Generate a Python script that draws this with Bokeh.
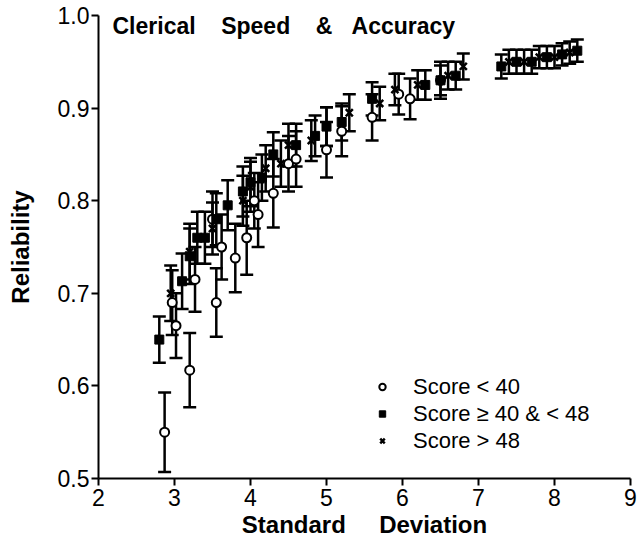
from bokeh.plotting import figure
from bokeh.models import ColumnDataSource, Whisker, TeeHead, Label, Legend, LegendItem, FixedTicker, NumeralTickFormatter
from bokeh.embed import file_html
from bokeh.resources import INLINE

# Score < 40 (open circles)
low_sd = [2.87, 2.97, 3.02, 3.2, 3.27, 3.55, 3.5, 3.62, 3.8, 3.95, 4.05, 4.1, 4.3, 4.5, 4.6, 5.0, 5.2, 5.6, 5.95, 6.1, 6.5]
low_rel = [0.550, 0.690, 0.665, 0.617, 0.715, 0.690, 0.780, 0.750, 0.738, 0.760, 0.800, 0.785, 0.808, 0.840, 0.845, 0.855, 0.875, 0.890, 0.915, 0.910, 0.930]
low_err = [0.043, 0.035, 0.035, 0.040, 0.035, 0.037, 0.030, 0.035, 0.037, 0.040, 0.030, 0.035, 0.037, 0.030, 0.030, 0.030, 0.027, 0.025, 0.022, 0.022, 0.020]

# Score >= 40 & < 48 (filled squares)
mid_sd = [2.8, 3.1, 3.2, 3.3, 3.4, 3.55, 3.7, 3.9, 4.0, 4.15, 4.3, 4.6, 4.85, 5.0, 5.2, 5.6, 6.3, 6.5, 6.7, 7.3, 7.5, 7.7, 7.9, 8.1, 8.3]
mid_rel = [0.650, 0.713, 0.740, 0.760, 0.760, 0.780, 0.795, 0.810, 0.820, 0.825, 0.850, 0.860, 0.870, 0.880, 0.885, 0.910, 0.925, 0.930, 0.935, 0.945, 0.950, 0.950, 0.955, 0.958, 0.962]
mid_err = [0.025, 0.030, 0.030, 0.028, 0.028, 0.028, 0.027, 0.027, 0.026, 0.025, 0.024, 0.023, 0.022, 0.021, 0.020, 0.018, 0.016, 0.016, 0.015, 0.013, 0.013, 0.013, 0.012, 0.012, 0.012]

# Score > 48 (crosses)
high_sd = [2.95, 3.2, 3.5, 3.9, 4.0, 4.2, 4.4, 4.5, 4.8, 5.0, 5.3, 5.7, 5.9, 6.2, 6.6, 6.8, 7.4, 7.6, 7.8, 8.0, 8.2]
high_rel = [0.700, 0.745, 0.770, 0.800, 0.815, 0.835, 0.840, 0.860, 0.865, 0.880, 0.895, 0.905, 0.920, 0.925, 0.935, 0.945, 0.950, 0.950, 0.955, 0.955, 0.960]
high_err = [0.030, 0.030, 0.028, 0.027, 0.027, 0.025, 0.025, 0.023, 0.022, 0.021, 0.020, 0.018, 0.017, 0.016, 0.015, 0.014, 0.013, 0.013, 0.012, 0.012, 0.012]

x_ticks = [2, 3, 4, 5, 6, 7, 8, 9]
y_ticks = [0.5, 0.6, 0.7, 0.8, 0.9, 1.0]
title_text = "Clerical\u00a0\u00a0\u00a0\u00a0Speed\u00a0\u00a0\u00a0\u00a0&\u00a0\u00a0\u00a0Accuracy"
x_label = "Standard\u00a0\u00a0\u00a0\u00a0\u00a0Deviation"
y_label = "Reliability"
legend_labels = ["Score < 40", "Score \u2265 40 & < 48", "Score > 48"]

FONT = "Liberation Sans"

p = figure(width=638, height=545, output_backend="svg", toolbar_location=None,
           x_range=(2, 9), y_range=(0.5, 1.0),
           min_border_left=98, min_border_right=8, min_border_top=15, min_border_bottom=67)
p.outline_line_color = None
p.xgrid.visible = False
p.ygrid.visible = False
p.background_fill_color = "white"

def src(xs, ys, es):
    return ColumnDataSource(dict(x=xs, y=ys,
                                 lo=[a - b for a, b in zip(ys, es)],
                                 hi=[a + b for a, b in zip(ys, es)]))

renderers = []
for xs, ys, es, kind in [(low_sd, low_rel, low_err, "circle"),
                         (mid_sd, mid_rel, mid_err, "square"),
                         (high_sd, high_rel, high_err, "x")]:
    s = src(xs, ys, es)
    w = Whisker(base="x", lower="lo", upper="hi", source=s, line_color="black", line_width=2.5,
                lower_head=TeeHead(size=13, line_width=2.5, line_color="black"),
                upper_head=TeeHead(size=13, line_width=2.5, line_color="black"))
    p.add_layout(w)
    if kind == "circle":
        r = p.scatter("x", "y", source=s, marker="circle", size=9, fill_color="white",
                      line_color="black", line_width=2)
    elif kind == "square":
        r = p.scatter("x", "y", source=s, marker="square", size=9, fill_color="black",
                      line_color="black")
    else:
        r = p.scatter("x", "y", source=s, marker="x", size=10, line_color="black", line_width=2.5)
    renderers.append(r)

legend = Legend(items=[LegendItem(label=l, renderers=[r]) for l, r in zip(legend_labels, renderers)],
                location=(276, 24), padding=0, spacing=0, margin=0,
                label_height=27, glyph_height=27, glyph_width=16, label_standoff=23,
                label_text_font=FONT, label_text_font_size="22px", label_text_color="black",
                background_fill_alpha=0, border_line_color=None)
p.add_layout(legend)

for ax in (p.xaxis[0], p.yaxis[0]):
    ax.axis_line_width = 2
    ax.axis_line_color = "black"
    ax.major_tick_line_width = 2
    ax.major_tick_line_color = "black"
    ax.major_tick_out = 7
    ax.major_tick_in = 0
    ax.minor_tick_line_color = None
    ax.major_label_text_font = FONT
    ax.major_label_text_font_size = "23px"
    ax.major_label_text_color = "black"
    ax.axis_label_text_font = FONT
    ax.axis_label_text_font_size = "24px"
    ax.axis_label_text_font_style = "bold"
    ax.axis_label_text_color = "black"

p.xaxis.ticker = FixedTicker(ticks=x_ticks)
p.yaxis.ticker = FixedTicker(ticks=y_ticks)
p.yaxis.formatter = NumeralTickFormatter(format="0.0")
p.xaxis.axis_label = x_label
p.yaxis.axis_label = y_label
p.xaxis.major_label_standoff = 3
p.yaxis.major_label_standoff = 2
p.xaxis.axis_label_standoff = 2
p.yaxis.axis_label_standoff = 21

p.add_layout(Label(x=14, y=453, x_units="screen", y_units="screen", text=title_text,
                   text_font=FONT, text_font_size="23px", text_font_style="bold",
                   text_baseline="middle", text_color="black"))

open("out.html", "w").write(file_html(p, INLINE))
